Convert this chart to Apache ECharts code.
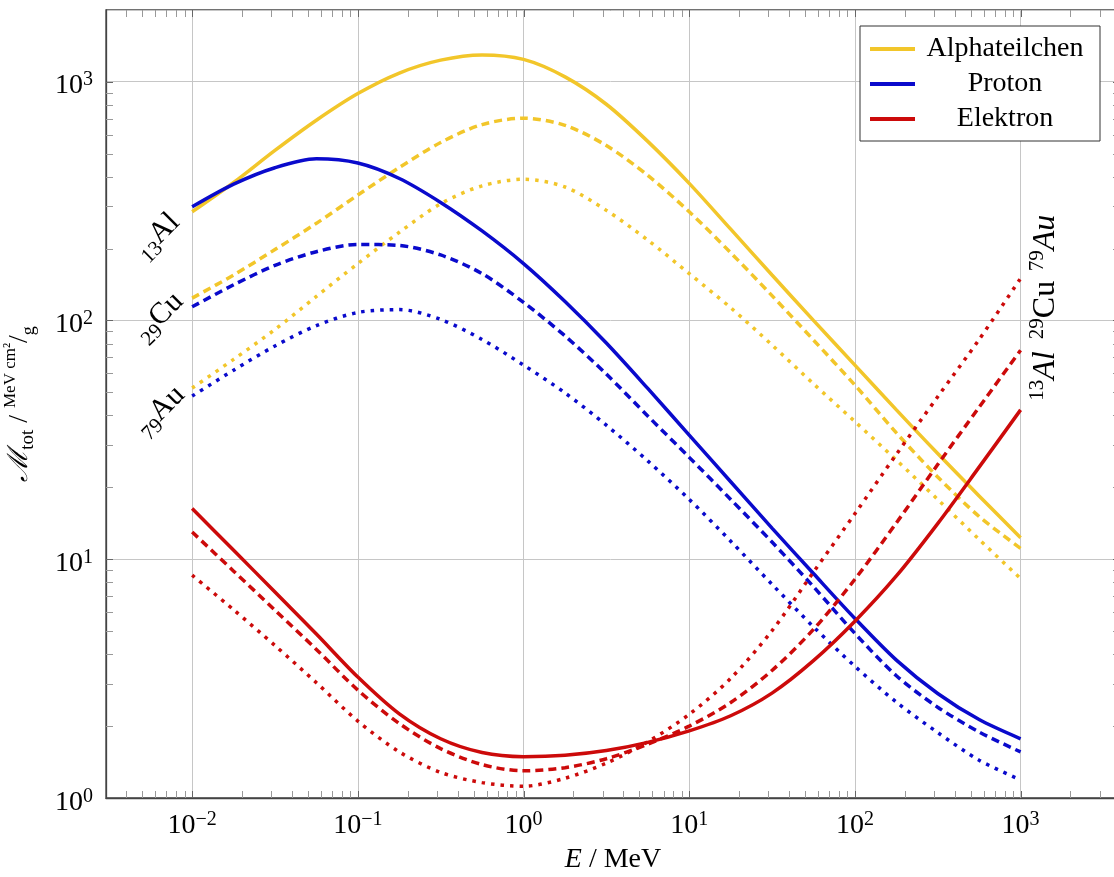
<!DOCTYPE html>
<html><head><meta charset="utf-8">
<script src="https://cdn.jsdelivr.net/npm/echarts@6/dist/echarts.min.js"></script>
<style>html,body{margin:0;padding:0;background:#fff}#c{width:1114px;height:877px}</style>
</head><body><div id="c"></div>
<script>
// ---- data ----
const energy = [0.01, 0.0178, 0.0316, 0.0562, 0.1, 0.178, 0.316, 0.562, 1, 1.78, 3.16, 5.62, 10, 17.8, 31.6, 56.2, 100, 178, 316, 562, 1000];

const alphaAl = [285, 378, 515, 689, 891, 1086, 1230, 1294, 1239, 1047, 804, 562, 375, 241, 155, 100, 65.0, 42.2, 27.7, 18.4, 12.3];
const alphaCu = [124, 155, 198, 255, 335, 437, 556, 661, 703, 656, 540, 405, 285, 192, 127, 82.8, 53.6, 33.8, 22.1, 15.1, 11.1];
const alphaAu = [52.1, 68.7, 91.6, 126, 173, 234, 308, 366, 390, 362, 289, 217, 157, 113, 78.9, 54.3, 37.7, 26.0, 17.8, 12.1, 8.30];

const protonAl = [299, 372, 436, 475, 456, 393, 312, 237, 173, 120, 80.4, 51.9, 33.1, 21.1, 13.5, 8.71, 5.65, 3.78, 2.74, 2.13, 1.77];
const protonCu = [114, 141, 170, 194, 208, 206, 188, 157, 119, 86.1, 59.6, 39.8, 26.7, 17.8, 11.8, 7.67, 4.89, 3.25, 2.40, 1.89, 1.56];
const protonAu = [48.2, 61.9, 78.2, 95.1, 108, 111, 101, 83.2, 65.0, 49.7, 36.4, 25.8, 17.8, 11.9, 7.85, 5.21, 3.56, 2.52, 1.88, 1.44, 1.19];

const electronAl = [16.3, 10.9, 7.29, 4.86, 3.21, 2.25, 1.77, 1.55, 1.49, 1.51, 1.58, 1.71, 1.91, 2.21, 2.75, 3.76, 5.50, 8.51, 14.1, 24.3, 42.2];
const electronCu = [13.0, 8.91, 6.12, 4.19, 2.83, 2.05, 1.61, 1.38, 1.30, 1.34, 1.46, 1.68, 2.00, 2.51, 3.42, 5.08, 8.24, 14.2, 24.9, 43.3, 75.0];
const electronAu = [8.57, 6.14, 4.35, 3.04, 2.10, 1.56, 1.28, 1.16, 1.12, 1.21, 1.40, 1.72, 2.24, 3.17, 5.02, 8.83, 15.5, 27.5, 47.9, 83.2, 150];

const legendNames = ['Alphateilchen', 'Proton', 'Elektron'];
const xMajorTicks = [0.01, 0.1, 1, 10, 100, 1000];
const yMajorTicks = [10, 100, 1000];
const minorMantissas = [2, 3, 4, 5, 6, 7, 8, 9];
const xDecades = [0.001, 0.01, 0.1, 1, 10, 100, 1000];
const yDecades = [1, 10, 100, 1000];
const xMin = 0.00302, xMax = 3981;
const yMin = 1, yMax = 1995;

// ---- styling ----
const FONT = '"Liberation Serif", "Times New Roman", serif';
const YELLOW = '#f2c62a', BLUE = '#0a0acc', RED = '#cc0a0a';
const DASH = [8, 5], DOT = [3.5, 6];

const xMinor = [], yMinor = [];
xDecades.forEach(d => minorMantissas.forEach(m => { const v = +(m * d).toPrecision(6); if (v > xMin && v < xMax) xMinor.push(v); }));
yDecades.forEach(d => minorMantissas.forEach(m => { const v = +(m * d).toPrecision(6); if (v > yMin && v < yMax) yMinor.push(v); }));

function curve(name, values, color, type) {
  return {
    name, type: 'line', data: energy.map((e, i) => [e, values[i]]),
    smooth: 0.3, symbol: 'none', color: color, silent: true,
    lineStyle: { color, width: 3.5, type, cap: 'butt' }, z: 3
  };
}

const powRich = {
  b: { fontSize: 28, lineHeight: 30, verticalAlign: 'bottom', fontFamily: FONT, color: '#000' },
  s: { fontSize: 20, lineHeight: 20, verticalAlign: 'top', fontFamily: FONT, color: '#000' }
};
function powLabel(v) {
  const e = Math.log10(v), r = Math.round(e);
  if (Math.abs(e - r) > 1e-6) return '';
  return '{b|10}{s|' + (r < 0 ? '\u2212' + (-r) : r) + '}';
}

function tickSeries(values, axis, major) {
  const color = major ? '#666' : '#999';
  return {
    type: 'custom', silent: true, clip: false, z: 5,
    data: values.map(v => axis === 'x' ? [v, 10] : [0.01, v]),
    renderItem: (params, api) => {
      const cs = params.coordSys, len = 7;
      if (axis === 'x') {
        const x = Math.round(api.coord([api.value(0), 10])[0]) + 0.5;
        const b = cs.y + cs.height, t = cs.y;
        return { type: 'group', children: [
          { type: 'line', shape: { x1: x, y1: b, x2: x, y2: b - len }, style: { stroke: color, lineWidth: 1 } },
          { type: 'line', shape: { x1: x, y1: t, x2: x, y2: t + len }, style: { stroke: color, lineWidth: 1 } }
        ]};
      } else {
        const y = Math.round(api.coord([0.01, api.value(1)])[1]) + 0.5;
        const l = cs.x, r = cs.x + cs.width;
        return { type: 'group', children: [
          { type: 'line', shape: { x1: l, y1: y, x2: l + len, y2: y }, style: { stroke: color, lineWidth: 1 } },
          { type: 'line', shape: { x1: r, y1: y, x2: r - len, y2: y }, style: { stroke: color, lineWidth: 1 } }
        ]};
      }
    }
  };
}

const elRich = {
  e: { fontSize: 30, lineHeight: 38, fontFamily: FONT, color: '#000' },
  ei: { fontSize: 32, lineHeight: 38, fontFamily: FONT, color: '#000', fontStyle: 'italic' },
  eu: { fontSize: 32, lineHeight: 38, fontFamily: FONT, color: '#000' },
  s: { fontSize: 21, lineHeight: 24, verticalAlign: 'bottom', fontFamily: FONT, color: '#000' },
  u: { fontSize: 21, lineHeight: 24, verticalAlign: 'top', fontFamily: FONT, color: '#000' }
};
function elText(x, y, rot, txt) {
  return { type: 'text', x, y, rotation: rot, z: 10, silent: true,
    style: { text: txt, rich: elRich, align: 'center', verticalAlign: 'middle', font: '28px ' + FONT } };
}

const chart = echarts.init(document.getElementById('c'), null, { renderer: 'canvas' });
chart.setOption({
  animation: false,
  backgroundColor: '#fff',
  grid: { left: 106, top: 10, right: -6, bottom: 79, show: true, borderColor: '#444', borderWidth: 1.3, containLabel: false, outerBoundsMode: 'none' },
  xAxis: {
    type: 'log', logBase: 10, min: xMin, max: xMax,
    axisLine: { show: true, lineStyle: { color: '#444', width: 1.3 } },
    axisTick: { show: false },
    splitLine: { show: true, lineStyle: { color: '#c6c6c6', width: 1 } },
    axisLabel: { formatter: powLabel, rich: powRich, margin: 12, hideOverlap: false },
    name: '{i|E}{r| / MeV}', nameLocation: 'middle', nameGap: 48,
    nameTextStyle: { rich: {
      i: { fontSize: 28, fontStyle: 'italic', fontFamily: FONT, color: '#000' },
      r: { fontSize: 28, fontFamily: FONT, color: '#000' } } }
  },
  yAxis: {
    type: 'log', logBase: 10, min: yMin, max: yMax,
    axisLine: { show: true, lineStyle: { color: '#444', width: 1.3 } },
    axisTick: { show: false },
    splitLine: { show: true, lineStyle: { color: '#c6c6c6', width: 1 } },
    axisLabel: { formatter: powLabel, rich: powRich, margin: 13, padding: [7, 0, 0, 0], hideOverlap: false },
    name: '{m|\u2133}{s|tot}{r| / }{n|MeV cm\u00b2}{r|/}{d|g}', nameLocation: 'middle', nameGap: 68, nameRotate: 90,
    nameTextStyle: { rich: {
      m: { fontSize: 28, lineHeight: 36, fontFamily: '"DejaVu Serif", ' + FONT, fontStyle: 'italic', color: '#000' },
      s: { fontSize: 19, lineHeight: 22, verticalAlign: 'bottom', fontFamily: FONT, color: '#000' },
      r: { fontSize: 28, lineHeight: 36, fontFamily: FONT, color: '#000' },
      n: { fontSize: 17, lineHeight: 24, verticalAlign: 'top', fontFamily: FONT, color: '#000' },
      d: { fontSize: 18, lineHeight: 22, verticalAlign: 'bottom', fontFamily: FONT, color: '#000' } } }
  },
  legend: {
    data: legendNames, orient: 'vertical', left: 860, top: 26,
    icon: 'rect', itemWidth: 45, itemHeight: 4, itemGap: 7,
    padding: [9, 10, 8, 10], backgroundColor: '#fff', borderColor: '#333', borderWidth: 1,
    selectedMode: false,
    formatter: n => '{t|' + n + '}',
    textStyle: { rich: { t: { width: 170, align: 'center', fontSize: 28, lineHeight: 32, fontFamily: FONT, color: '#000' } } }
  },
  series: [
    curve('Alphateilchen', alphaAl, YELLOW, 'solid'),
    curve('Alpha Cu', alphaCu, YELLOW, DASH),
    curve('Alpha Au', alphaAu, YELLOW, DOT),
    curve('Proton', protonAl, BLUE, 'solid'),
    curve('Proton Cu', protonCu, BLUE, DASH),
    curve('Proton Au', protonAu, BLUE, DOT),
    curve('Elektron', electronAl, RED, 'solid'),
    curve('Elektron Cu', electronCu, RED, DASH),
    curve('Elektron Au', electronAu, RED, DOT),
    tickSeries(xMinor, 'x', false),
    tickSeries(xMajorTicks, 'x', true),
    tickSeries(yMinor, 'y', false),
    tickSeries(yMajorTicks, 'y', true)
  ],
  graphic: [
    elText(157, 236, Math.PI / 4, '{s|13}{e|Al}'),
    elText(159, 317, Math.PI / 4, '{s|29}{e|Cu}'),
    elText(160, 411, Math.PI / 4, '{s|79}{e|Au}'),
    elText(1046, 243, Math.PI / 2, '{u|79}{ei|Au}'),
    elText(1046, 310, Math.PI / 2, '{u|29}{eu|Cu}'),
    elText(1046, 376, Math.PI / 2, '{u|13}{ei|Al}')
  ]
});
</script>
</body></html>
